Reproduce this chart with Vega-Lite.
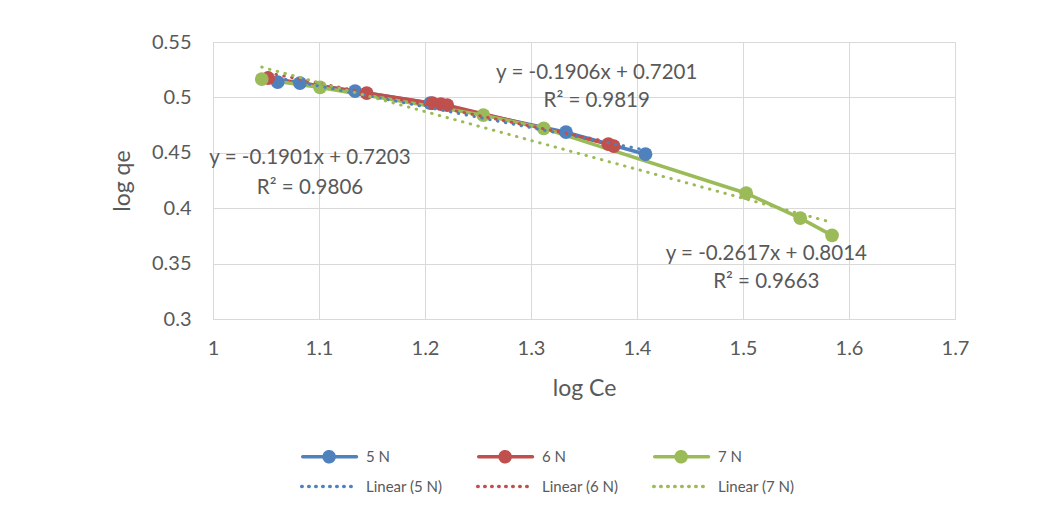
{
  "$schema": "https://vega.github.io/schema/vega-lite/v6.json",
  "autosize": {"type": "none"},
  "padding": {"left": 213, "top": 42, "right": 104, "bottom": 202},
  "width": 742,
  "height": 277,
  "background": "white",
  "config": {
    "font": "Lato",
    "view": {"stroke": null},
    "axis": {
      "gridColor": "#D9D9D9",
      "gridWidth": 1,
      "domainColor": "#D9D9D9",
      "domainWidth": 1,
      "ticks": false,
      "labelColor": "#595959",
      "labelFont": "Lato",
      "labelFontSize": 20,
      "titleColor": "#595959",
      "titleFont": "Lato",
      "titleFontSize": 23,
      "titleFontWeight": "normal"
    }
  },
  "data": {
    "values": [
      {"logCe": 1.061, "logqe": 0.5138, "series": "5 N", "trend": "Linear (5 N)"},
      {"logCe": 1.082, "logqe": 0.5129, "series": "5 N", "trend": "Linear (5 N)"},
      {"logCe": 1.134, "logqe": 0.5057, "series": "5 N", "trend": "Linear (5 N)"},
      {"logCe": 1.205, "logqe": 0.4948, "series": "5 N", "trend": "Linear (5 N)"},
      {"logCe": 1.333, "logqe": 0.4686, "series": "5 N", "trend": "Linear (5 N)"},
      {"logCe": 1.408, "logqe": 0.4487, "series": "5 N", "trend": "Linear (5 N)"},
      {"logCe": 1.052, "logqe": 0.5175, "series": "6 N", "trend": "Linear (6 N)"},
      {"logCe": 1.145, "logqe": 0.5039, "series": "6 N", "trend": "Linear (6 N)"},
      {"logCe": 1.207, "logqe": 0.4948, "series": "6 N", "trend": "Linear (6 N)"},
      {"logCe": 1.215, "logqe": 0.4939, "series": "6 N", "trend": "Linear (6 N)"},
      {"logCe": 1.221, "logqe": 0.4930, "series": "6 N", "trend": "Linear (6 N)"},
      {"logCe": 1.373, "logqe": 0.4578, "series": "6 N", "trend": "Linear (6 N)"},
      {"logCe": 1.378, "logqe": 0.4560, "series": "6 N", "trend": "Linear (6 N)"},
      {"logCe": 1.046, "logqe": 0.5165, "series": "7 N", "trend": "Linear (7 N)"},
      {"logCe": 1.101, "logqe": 0.5090, "series": "7 N", "trend": "Linear (7 N)"},
      {"logCe": 1.255, "logqe": 0.4840, "series": "7 N", "trend": "Linear (7 N)"},
      {"logCe": 1.312, "logqe": 0.4720, "series": "7 N", "trend": "Linear (7 N)"},
      {"logCe": 1.503, "logqe": 0.4135, "series": "7 N", "trend": "Linear (7 N)"},
      {"logCe": 1.554, "logqe": 0.3910, "series": "7 N", "trend": "Linear (7 N)"},
      {"logCe": 1.584, "logqe": 0.3755, "series": "7 N", "trend": "Linear (7 N)"}
    ]
  },
  "layer": [
    {
      "mark": {"type": "line", "strokeWidth": 3.5, "point": {"filled": true, "size": 190, "opacity": 1}},
      "encoding": {
        "x": {"field": "logCe", "type": "quantitative", "title": "log Ce",
          "scale": {"domain": [1, 1.7], "nice": false, "zero": false},
          "axis": {"values": [1, 1.1, 1.2, 1.3, 1.4, 1.5, 1.6, 1.7], "format": ".1~f", "labelPadding": 19, "titlePadding": 19, "labelFlush": false}},
        "y": {"field": "logqe", "type": "quantitative", "title": "log qe",
          "scale": {"domain": [0.3, 0.55], "nice": false, "zero": false},
          "axis": {"values": [0.3, 0.35, 0.4, 0.45, 0.5, 0.55], "format": ".2~f", "labelPadding": 22, "titlePadding": 17, "labelFlush": false}},
        "color": {"field": "series", "type": "nominal",
          "scale": {"domain": ["5 N", "6 N", "7 N", "Linear (5 N)", "Linear (6 N)", "Linear (7 N)"],
                    "range": ["#4F81BD", "#C0504D", "#9BBB59", "#4F81BD", "#C0504D", "#9BBB59"]},
          "legend": {
            "title": null,
            "orient": "none",
            "legendX": 84,
            "legendY": 407,
            "direction": "horizontal",
            "columns": 3,
            "columnPadding": 27,
            "rowPadding": 10,
            "labelFont": "Lato",
            "labelFontSize": 15,
            "labelColor": "#595959",
            "labelOffset": 54,
            "symbolSize": 16,
            "symbolStrokeWidth": 3.5,
            "encode": {
              "symbols": {
                "update": {
                  "shape": {"signal": "indexof(datum.value, 'Linear') === 0 ? 'M-1.4,0L26,0' : 'M-0.9,0L26,0M14.8,0A2.5,2.5,0,1,1,9.8,0A2.5,2.5,0,1,1,14.8,0Z'"},
                  "fill": {"signal": "indexof(datum.value, 'Linear') === 0 ? 'transparent' : scale('color', datum.value)"},
                  "stroke": {"signal": "scale('color', datum.value)"},
                  "strokeDash": {"signal": "indexof(datum.value, 'Linear') === 0 ? [0.5, 6.5] : [1, 0]"},
                  "strokeCap": {"value": "round"},
                  "strokeWidth": {"value": 3.5},
                  "opacity": {"value": 1}
                }
              }
            }
          }}
      }
    },
    {
      "transform": [{"regression": "logqe", "on": "logCe", "groupby": ["series", "trend"]}],
      "mark": {"type": "line", "strokeWidth": 3, "strokeDash": [0.5, 7.5], "strokeCap": "round"},
      "encoding": {
        "x": {"field": "logCe", "type": "quantitative"},
        "y": {"field": "logqe", "type": "quantitative"},
        "color": {"field": "trend", "type": "nominal"}
      }
    },
    {
      "data": {
        "values": [
          {"label": "y = -0.1906x + 0.7201", "lx": 1.362, "ly": 0.522},
          {"label": "R² = 0.9819", "lx": 1.362, "ly": 0.4967},
          {"label": "y = -0.1901x + 0.7203", "lx": 1.0915, "ly": 0.445},
          {"label": "R² = 0.9806", "lx": 1.0915, "ly": 0.418},
          {"label": "y = -0.2617x + 0.8014", "lx": 1.522, "ly": 0.359},
          {"label": "R² = 0.9663", "lx": 1.522, "ly": 0.333}
        ]
      },
      "mark": {"type": "text", "font": "Lato", "fontSize": 20.5, "color": "#595959", "align": "center", "baseline": "middle"},
      "encoding": {
        "x": {"field": "lx", "type": "quantitative"},
        "y": {"field": "ly", "type": "quantitative"},
        "text": {"field": "label"}
      }
    }
  ]
}
